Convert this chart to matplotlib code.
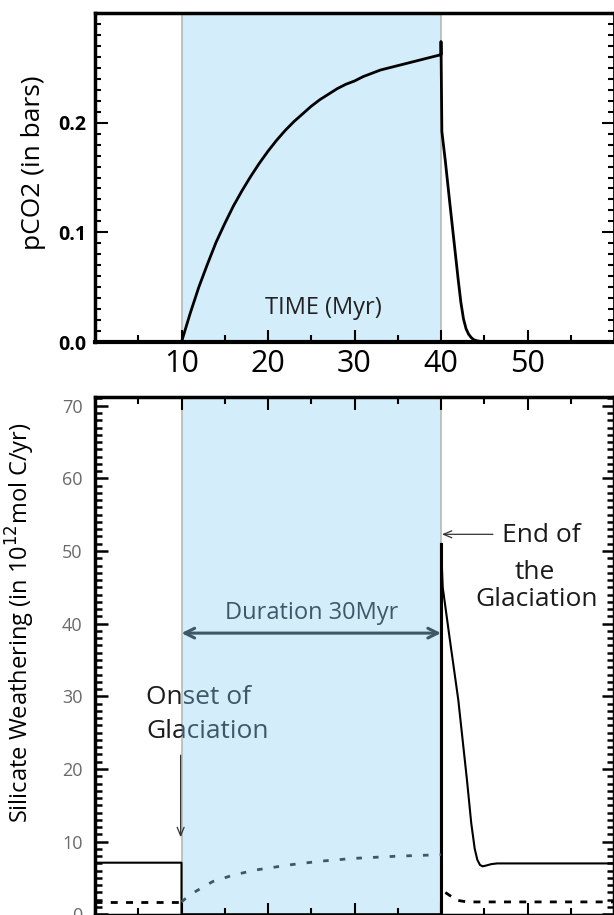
import numpy as np
import matplotlib
matplotlib.use("Agg")
import matplotlib.pyplot as plt
from matplotlib.ticker import MultipleLocator, FixedLocator
from matplotlib.transforms import Bbox, TransformedBbox

plt.rcParams['font.family'] = ['Open Sans', 'DejaVu Sans']

# ---- data ----
# top panel: pCO2 (bars)
t_pco2 = [0, 10, 10.5, 11, 11.5, 12, 13, 14, 15, 16, 17, 18, 19, 20, 21, 22, 23, 24, 25, 26,
          27, 28, 29, 30, 31, 32, 33, 34, 35, 36, 37, 38, 39, 40,
          40.0, 40.1, 40.5, 41.0, 41.5, 42.0, 42.3, 42.6, 42.9, 43.2, 43.5, 43.8, 44.2, 45.0, 60]
pco2 = [0.0, 0.0, 0.013, 0.026, 0.038, 0.050, 0.071, 0.091, 0.108, 0.124, 0.138, 0.151,
        0.163, 0.174, 0.184, 0.193, 0.201, 0.208, 0.215, 0.221, 0.226, 0.231, 0.235, 0.238,
        0.242, 0.245, 0.248, 0.250, 0.252, 0.254, 0.256, 0.258, 0.260, 0.262,
        0.274, 0.192, 0.165, 0.128, 0.092, 0.056, 0.036, 0.021, 0.012, 0.007, 0.004, 0.002,
        0.001, 0.0, 0.0]

# bottom panel: total silicate weathering (solid)
t_sil = [0, 10, 10, 40, 40, 40.2, 41.0, 42.0, 43.0, 43.5, 43.9, 44.2, 44.5, 44.8, 45.2,
         45.8, 46.5, 60]
sil = [7.1, 7.1, 0.0, 0.0, 51.0, 45.0, 38.0, 29.5, 18.5, 12.5, 9.0, 7.5, 6.8, 6.6, 6.7,
       6.9, 7.0, 7.0]

# bottom panel: second flux (dashed)
t_low_pre = [0, 10]
low_pre = [1.7, 1.7]
t_low_gla = [10, 11, 12, 13.6, 16, 18.6, 22.5, 26, 30, 35, 40]
low_gla = [1.7, 2.7, 3.4, 4.5, 5.4, 6.1, 6.8, 7.3, 7.7, 8.0, 8.2]
t_low_post = [40.5, 41, 41.5, 42, 43, 44, 60]
low_post = [3.0, 2.6, 2.2, 1.9, 1.7, 1.7, 1.7]

glac_start, glac_end = 10, 40

BLUE = '#d3eefa'
SLATE = '#3e5867'
EDGE = '#b8b8b8'

fig = plt.figure(figsize=(6.14, 9.15), dpi=100)
ax1 = fig.add_axes([95 / 614, 1 - 342 / 915, 519 / 614, 329 / 915])
ax2 = fig.add_axes([95 / 614, 0.0, 519 / 614, 518 / 915])

# ================= top panel =================
ax1.axvspan(glac_start, glac_end, facecolor=BLUE, edgecolor=EDGE, lw=1.2, zorder=0)
ax1.plot(t_pco2, pco2, color='black', lw=2.0, zorder=3)
ax1.set_xlim(0, 60)
ax1.set_ylim(0, 0.3)
ax1.xaxis.set_major_locator(FixedLocator([10, 20, 30, 40, 50]))
ax1.xaxis.set_minor_locator(FixedLocator([5, 15, 25, 35, 45, 55]))
ax1.yaxis.set_major_locator(FixedLocator([0.0, 0.1, 0.2]))
ax1.yaxis.set_minor_locator(MultipleLocator(0.01))
ax1.set_yticklabels(['0.0', '0.1', '0.2'])
ax1.tick_params(axis='x', which='both', direction='in', top=False, bottom=True,
                width=1.5, labelsize=22, pad=5)
ax1.tick_params(axis='x', which='major', length=9)
ax1.tick_params(axis='x', which='minor', length=5)
ax1.tick_params(axis='y', which='both', direction='in', left=True, right=True,
                width=1.5, labelsize=14, pad=6)
ax1.tick_params(axis='y', which='major', length=9)
ax1.tick_params(axis='y', which='minor', length=4)
for lab in ax1.get_yticklabels():
    lab.set_fontweight('bold')
ax1.spines['bottom'].set_linewidth(3)
ax1.spines['left'].set_linewidth(2.5)
ax1.spines['top'].set_linewidth(2.5)
ax1.spines['right'].set_linewidth(2)
ax1.set_ylabel('pCO2 (in bars)', fontsize=19)
ax1.yaxis.set_label_coords(-0.095, 0.545)
ax1.text(26.4, 0.031, 'TIME (Myr)', fontsize=17, ha='center', va='center', color='#222222')

# ================= bottom panel =================
ax2.axvspan(glac_start, glac_end, facecolor=BLUE, edgecolor=EDGE, lw=1.2, zorder=0)
ax2.plot(t_sil, sil, color='black', lw=1.5, zorder=3)
ax2.plot([glac_end, glac_end], [0, 51.0], color='black', lw=2.2, zorder=3)
ax2.plot(t_low_pre, low_pre, color='black', lw=2.0, ls=(0, (2.5, 3)), zorder=3)
ax2.plot(t_low_gla, low_gla, color=SLATE, lw=2.0, ls=(0, (2.0, 4)), zorder=3)
ax2.plot(t_low_post, low_post, color='black', lw=2.0, ls=(0, (2.5, 3)), zorder=3)
ax2.set_xlim(0, 60)
ax2.set_ylim(-0.1, 71.2)
ax2.xaxis.set_major_locator(MultipleLocator(10))
ax2.xaxis.set_minor_locator(MultipleLocator(5))
ax2.yaxis.set_major_locator(FixedLocator([0, 10, 20, 30, 40, 50, 60, 70]))
ax2.yaxis.set_minor_locator(MultipleLocator(1))
ax2.tick_params(axis='x', which='both', direction='in', top=True, bottom=True,
                labelbottom=False, width=1.5)
ax2.tick_params(axis='x', which='major', length=9)
ax2.tick_params(axis='x', which='minor', length=5)
ax2.tick_params(axis='y', which='both', direction='in', left=True, right=True,
                width=1.8, labelsize=13, labelcolor='#6a6a6a', pad=9)
ax2.tick_params(axis='y', which='major', length=9)
ax2.tick_params(axis='y', which='minor', length=5)
for sp in ax2.spines.values():
    sp.set_linewidth(2.5)
ax2.set_ylabel('Silicate Weathering (in 10$^{12}$mol C/yr)', fontsize=17)
ax2.yaxis.set_label_coords(-0.112, 0.564)

# duration arrow and label
ax2.annotate('', xy=(glac_start, 38.7), xytext=(glac_end, 38.7),
             arrowprops=dict(arrowstyle='<->,head_length=0.7,head_width=0.35',
                             color=SLATE, lw=2.2, shrinkA=0, shrinkB=0), zorder=4)
ax2.text(25, 40.7, 'Duration 30Myr', fontsize=17, color=SLATE, ha='center', va='baseline')

# onset text: black outside the glaciation band, slate inside
clip_out = TransformedBbox(Bbox([[0, -5], [glac_start, 80]]), ax2.transData)
clip_in = TransformedBbox(Bbox([[glac_start, -5], [glac_end, 80]]), ax2.transData)
for txt, yb in [('Onset of', 29.0), ('Glaciation', 24.2)]:
    for col, box in [('#1a1a1a', clip_out), (SLATE, clip_in)]:
        t = ax2.text(5.9, yb, txt, fontsize=19, color=col, ha='left', va='baseline',
                     clip_on=True)
        t.set_clip_box(box)

ax2.annotate('', xy=(9.9, 10.6), xytext=(9.9, 21.9),
             arrowprops=dict(arrowstyle='->,head_length=0.6,head_width=0.25',
                             color='#333333', lw=0.9, shrinkA=0, shrinkB=0))

# end of glaciation
ax2.annotate('', xy=(40.1, 52.3), xytext=(46.0, 52.3),
             arrowprops=dict(arrowstyle='->,head_length=0.6,head_width=0.25',
                             color='#333333', lw=0.9, shrinkA=0, shrinkB=0))
ax2.text(51.6, 51.2, 'End of', fontsize=19, color='#1a1a1a', ha='center', va='baseline')
ax2.text(50.8, 46.2, 'the', fontsize=19, color='#1a1a1a', ha='center', va='baseline')
ax2.text(51.0, 42.5, 'Glaciation', fontsize=19, color='#1a1a1a', ha='center', va='baseline')

fig.savefig('out.png', dpi=100)
